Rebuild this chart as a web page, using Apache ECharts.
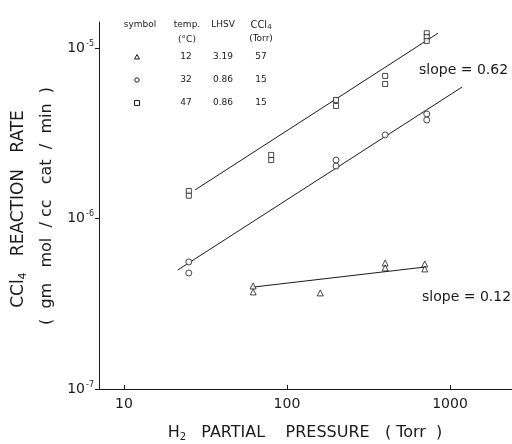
<!DOCTYPE html>
<html>
<head>
<meta charset="utf-8">
<script src="https://cdn.jsdelivr.net/npm/echarts@6/dist/echarts.min.js"></script>
<style>
  html, body { margin: 0; padding: 0; background: #fff; }
  #chart { width: 512px; height: 444px; }
</style>
</head>
<body>
<div id="chart"></div>
<script>
// H2 partial pressure (Torr) -> CCl4 reaction rate, three runs
const pressure12 = [62, 62, 160, 400, 400, 700, 700];
const rate12 = [4.02e-7, 3.71e-7, 3.66e-7, 5.48e-7, 5.13e-7, 5.41e-7, 5.06e-7];
const pressure32 = [25, 25, 200, 200, 400, 720, 720];
const rate32 = [5.56e-7, 4.79e-7, 2.2e-6, 2.03e-6, 3.09e-6, 4.1e-6, 3.78e-6];
const pressure47 = [25, 25, 80, 80, 200, 200, 400, 400, 720, 720, 720];
const rate47 = [1.45e-6, 1.36e-6, 2.36e-6, 2.2e-6, 4.96e-6, 4.57e-6, 6.86e-6, 6.15e-6, 1.22e-5, 1.16e-5, 1.1e-5];

// fitted lines (end points)
const fit12 = [[62, 3.96e-7], [713, 5.2e-7]];
const fit32 = [[21.4, 4.99e-7], [1186, 5.9e-6]];
const fit47 = [[27.3, 1.47e-6], [843, 1.22e-5]];

// tick values
const xTicks = [10, 100, 1000];
const yTicks = [1e-7, 1e-6, 1e-5];

// legend table
const legendTemp = ['12', '32', '47'];
const legendLHSV = ['3.19', '0.86', '0.86'];
const legendCCl4 = ['57', '15', '15'];
const legendSymbols = ['triangle', 'circle', 'rect'];

const FONT = '"DejaVu Sans", sans-serif';
const INK = '#1a1a1a';

function pairs(xs, ys) {
  return xs.map((x, i) => [x, ys[i]]);
}

const chart = echarts.init(document.getElementById('chart'), null, { renderer: 'canvas' });

const markerStyle = { color: '#fff', borderColor: INK, borderWidth: 1 };
const fitStyle = { color: INK, width: 1 };

const graphic = [];
// y axis title (two lines, rotated)
graphic.push({
  type: 'text', x: 19, y: 209, rotation: Math.PI / 2,
  style: {
    text: '{a|CCl}{s|4}{a|   REACTION   RATE}',
    align: 'center', verticalAlign: 'middle', fill: INK,
    rich: {
      a: { fontSize: 17, fontFamily: FONT, fill: INK },
      s: { fontSize: 11, fontFamily: FONT, fill: INK, padding: [8, 0, 0, 0] },
    },
  },
});
graphic.push({
  type: 'text', x: 47, y: 206, rotation: Math.PI / 2,
  style: {
    text: '(  gm   mol  / cc   cat  /  min  )',
    align: 'center', verticalAlign: 'middle', fill: INK,
    font: '16px ' + FONT,
  },
});
// x axis title
graphic.push({
  type: 'text', x: 305, y: 433,
  style: {
    text: '{a|H}{s|2}{a|   PARTIAL    PRESSURE   ( Torr  )}',
    align: 'center', verticalAlign: 'middle', fill: INK,
    rich: {
      a: { fontSize: 16, fontFamily: FONT, fill: INK },
      s: { fontSize: 10, fontFamily: FONT, fill: INK, padding: [8, 0, 0, 0] },
    },
  },
});
// slopes
graphic.push({ type: 'text', x: 419, y: 70, style: { text: 'slope = 0.62', font: '14px ' + FONT, fill: INK, verticalAlign: 'middle' } });
graphic.push({ type: 'text', x: 422, y: 297, style: { text: 'slope = 0.12', font: '14px ' + FONT, fill: INK, verticalAlign: 'middle' } });

// legend table
const colX = [137, 186, 223, 261];
const rowY = [57, 80, 103];
const small = '9px ' + FONT;
graphic.push({ type: 'text', x: colX[0] + 3, y: 25, style: { text: 'symbol', font: small, fill: INK, align: 'center', verticalAlign: 'middle' } });
graphic.push({ type: 'text', x: colX[1] + 1, y: 25, style: { text: 'temp.', font: small, fill: INK, align: 'center', verticalAlign: 'middle' } });
graphic.push({ type: 'text', x: colX[1] + 1, y: 40, style: { text: '(°C)', font: small, fill: INK, align: 'center', verticalAlign: 'middle' } });
graphic.push({ type: 'text', x: colX[2], y: 25, style: { text: 'LHSV', font: small, fill: INK, align: 'center', verticalAlign: 'middle' } });
graphic.push({
  type: 'text', x: colX[3], y: 25,
  style: {
    text: '{a|CCl}{s|4}', align: 'center', verticalAlign: 'middle', fill: INK,
    rich: { a: { fontSize: 10, fontFamily: FONT, fill: INK }, s: { fontSize: 7, fontFamily: FONT, fill: INK, padding: [5, 0, 0, 0] } },
  },
});
graphic.push({ type: 'text', x: colX[3], y: 39, style: { text: '(Torr)', font: small, fill: INK, align: 'center', verticalAlign: 'middle' } });
legendSymbols.forEach((sym, i) => {
  const y = rowY[i];
  const shapeStyle = { fill: '#fff', stroke: INK, lineWidth: 1 };
  if (sym === 'triangle') {
    graphic.push({ type: 'polygon', shape: { points: [[colX[0], y - 2.5], [colX[0] - 2.5, y + 2], [colX[0] + 2.5, y + 2]] }, style: shapeStyle });
  } else if (sym === 'circle') {
    graphic.push({ type: 'circle', shape: { cx: colX[0], cy: y, r: 2.2 }, style: shapeStyle });
  } else {
    graphic.push({ type: 'rect', shape: { x: colX[0] - 2.5, y: y - 2.5, width: 5, height: 5 }, style: shapeStyle });
  }
  graphic.push({ type: 'text', x: colX[1], y: y, style: { text: legendTemp[i], font: small, fill: INK, align: 'center', verticalAlign: 'middle' } });
  graphic.push({ type: 'text', x: colX[2], y: y, style: { text: legendLHSV[i], font: small, fill: INK, align: 'center', verticalAlign: 'middle' } });
  graphic.push({ type: 'text', x: colX[3], y: y, style: { text: legendCCl4[i], font: small, fill: INK, align: 'center', verticalAlign: 'middle' } });
});

const option = {
  backgroundColor: '#fff',
  animation: false,
  grid: { left: 99, right: 0, top: 22, bottom: 55, containLabel: false, outerBoundsMode: 'none' },
  xAxis: {
    type: 'log', logBase: 10, min: 7.03, max: 2400,
    axisLine: { lineStyle: { color: INK, width: 1 } },
    axisTick: { inside: true, length: 4, lineStyle: { color: INK }, customValues: xTicks },
    minorTick: { show: false },
    splitLine: { show: false },
    axisLabel: {
      color: INK, fontSize: 14, fontFamily: FONT, margin: 8,
      customValues: xTicks,
      formatter: (v) => String(Math.round(v)),
    },
  },
  yAxis: {
    type: 'log', logBase: 10, min: 1e-7, max: 1.42e-5,
    axisLine: { lineStyle: { color: INK, width: 1 } },
    axisTick: { inside: false, length: 4, lineStyle: { color: INK }, customValues: yTicks },
    minorTick: { show: false },
    splitLine: { show: false },
    axisLabel: {
      color: INK, fontFamily: FONT, margin: 5,
      customValues: yTicks,
      formatter: (v) => '{b|10}{e|' + Math.round(Math.log10(v)) + '}',
      rich: {
        b: { fontSize: 14, fontFamily: FONT, color: INK },
        e: { fontSize: 8, fontFamily: FONT, color: INK, padding: [0, 0, 9, 1] },
      },
    },
  },
  graphic: graphic,
  series: [
    { type: 'line', data: fit12, showSymbol: false, lineStyle: fitStyle, silent: true, z: 1 },
    { type: 'line', data: fit32, showSymbol: false, lineStyle: fitStyle, silent: true, z: 1 },
    { type: 'line', data: fit47, showSymbol: false, lineStyle: fitStyle, silent: true, z: 1 },
    { type: 'scatter', name: '12', data: pairs(pressure12, rate12), symbol: 'triangle', symbolSize: 6, itemStyle: markerStyle, z: 3 },
    { type: 'scatter', name: '32', data: pairs(pressure32, rate32), symbol: 'circle', symbolSize: 6, itemStyle: markerStyle, z: 3 },
    { type: 'scatter', name: '47', data: pairs(pressure47, rate47), symbol: 'rect', symbolSize: 5, itemStyle: markerStyle, z: 3 },
  ],
};

chart.setOption(option);
</script>
</body>
</html>
